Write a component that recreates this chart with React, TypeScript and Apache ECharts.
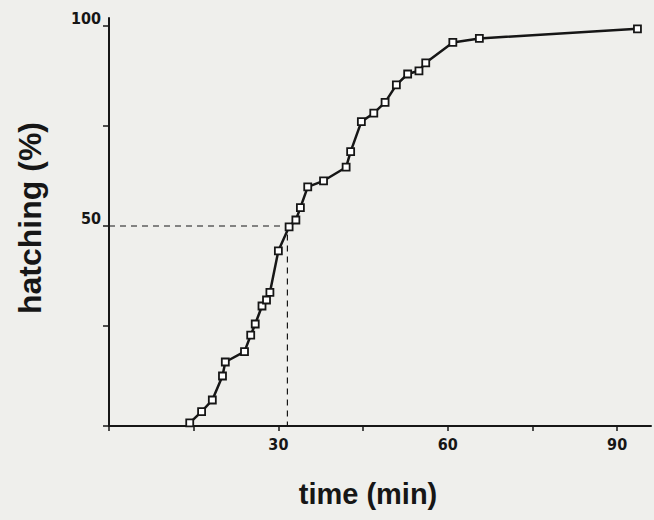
import React, { useEffect, useRef } from "react";
import * as echarts from "echarts";

const timeMin = [14.3, 16.4, 18.3, 20.1, 20.6, 24.0, 25.1, 25.9, 27.1, 27.9, 28.5, 30.0, 31.9, 33.1, 33.9, 35.2, 38.0, 42.0, 42.8, 44.7, 46.9, 48.9, 50.9, 52.9, 54.9, 56.1, 60.9, 65.6, 93.6];
const hatchingPct = [0.8, 3.6, 6.5, 12.5, 16.0, 18.6, 22.7, 25.5, 30.0, 31.5, 33.4, 43.8, 49.8, 51.5, 54.6, 59.8, 61.3, 64.7, 68.6, 76.1, 78.2, 80.9, 85.3, 88.0, 88.8, 90.8, 95.9, 96.9, 99.3];
const xTicks = [0, 15, 30, 45, 60, 75, 90];
const xLabels = [30, 60, 90];
const yTicks = [0, 25, 50, 75, 100];
const yLabels = [50, 100];
const halfLevel = 50;
const halfTime = 31.6;

const BG = "#efefec";
const INK = "#161616";

export default function App() {
  const ref = useRef<HTMLDivElement>(null);
  useEffect(() => {
    if (!ref.current) return;
    const chart = echarts.init(ref.current, undefined, { renderer: "svg" });
    const tickFont = "'Liberation Sans Narrow', 'DejaVu Sans Condensed', sans-serif";
    chart.setOption({
      animation: false,
      backgroundColor: BG,
      grid: { left: 109, right: 3, top: 18, bottom: 94, containLabel: false },
      xAxis: {
        type: "value",
        min: 0,
        max: 96,
        splitLine: { show: false },
        axisLine: { show: true, onZero: false, lineStyle: { color: INK, width: 2 } },
        axisTick: { show: true, customValues: xTicks, length: 5, lineStyle: { color: INK, width: 1.5 } },
        axisLabel: {
          show: true,
          customValues: xLabels,
          color: INK,
          fontFamily: tickFont,
          fontWeight: "bold",
          fontSize: 16,
          margin: 10,
        },
      },
      yAxis: {
        type: "value",
        min: 0,
        max: 102,
        splitLine: { show: false },
        axisLine: { show: true, onZero: false, lineStyle: { color: INK, width: 2 } },
        axisTick: { show: true, customValues: yTicks, length: 6, lineStyle: { color: INK, width: 1.5 } },
        axisLabel: {
          show: true,
          customValues: yLabels,
          color: INK,
          fontFamily: tickFont,
          fontWeight: "bold",
          fontSize: 16,
          margin: 8,
          verticalAlign: "bottom",
        },
      },
      graphic: [
        {
          type: "text",
          x: 30,
          y: 218,
          rotation: Math.PI / 2,
          style: {
            text: "hatching (%)",
            fill: INK,
            font: "bold 32px 'Liberation Sans', Arial, sans-serif",
            align: "center",
            verticalAlign: "middle",
          },
        },
        {
          type: "text",
          x: 368,
          y: 494,
          style: {
            text: "time (min)",
            fill: INK,
            font: "bold 29px 'Liberation Sans', Arial, sans-serif",
            align: "center",
            verticalAlign: "middle",
          },
        },
      ],
      series: [
        {
          type: "line",
          data: [[0, halfLevel], [halfTime, halfLevel], [halfTime, 0]],
          symbol: "none",
          lineStyle: { color: INK, width: 1.2, type: [6, 5] },
          z: 1,
        },
        {
          type: "line",
          data: timeMin.map((t, i) => [t, hatchingPct[i]]),
          symbol: "rect",
          symbolSize: 7,
          lineStyle: { color: INK, width: 2.5 },
          itemStyle: { color: "#ffffff", borderColor: INK, borderWidth: 1.8 },
          z: 3,
        },
      ],
    });
    return () => chart.dispose();
  }, []);
  return (
    <div
      ref={ref}
      style={{ position: "absolute", left: 0, top: 0, width: 654, height: 520, background: BG }}
    />
  );
}
